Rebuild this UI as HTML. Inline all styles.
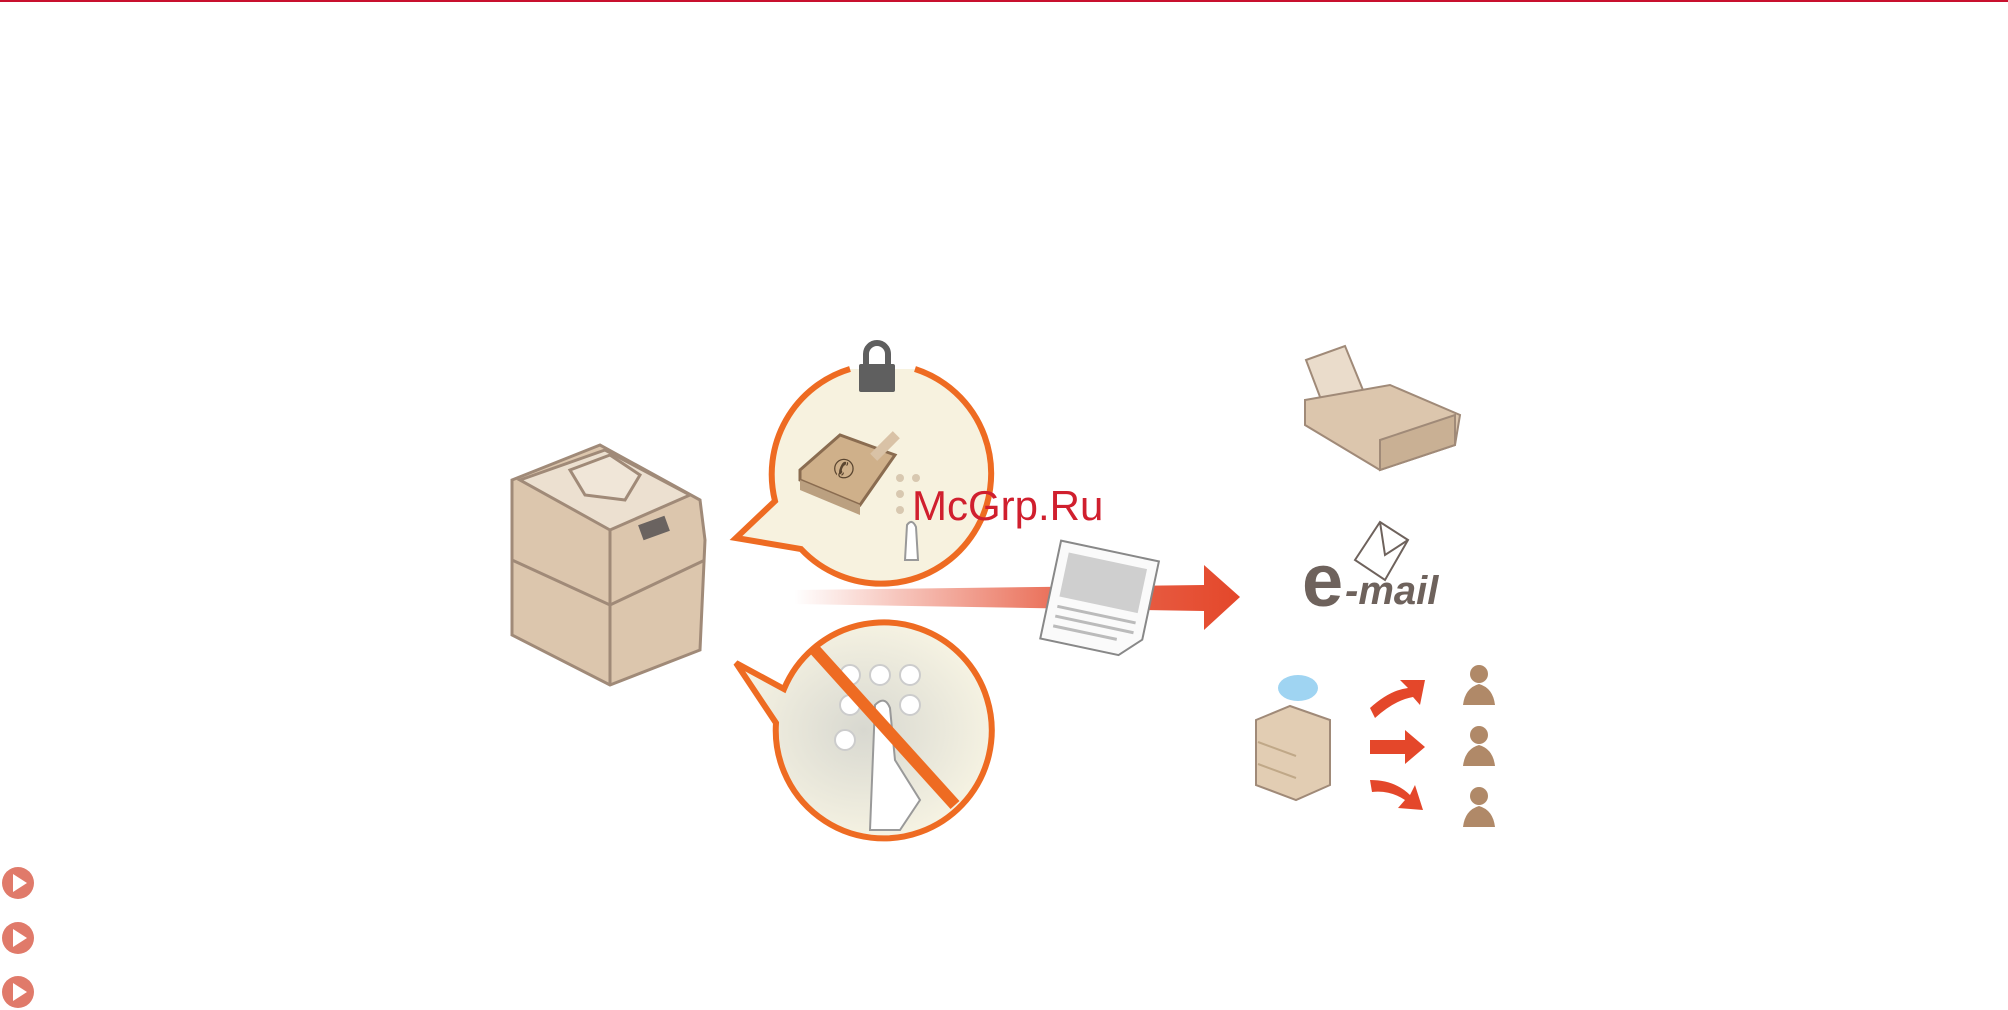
<!DOCTYPE html>
<html><head><meta charset="utf-8"><style>
html,body{margin:0;padding:0;background:#fff;width:2008px;height:1010px;overflow:hidden}
svg{display:block}
</style></head><body>
<svg width="2008" height="1010" viewBox="0 0 2008 1010" xmlns="http://www.w3.org/2000/svg">
<defs>
<linearGradient id="ar" x1="0" x2="1"><stop offset="0" stop-color="#e4472a" stop-opacity="0"/><stop offset="0.6" stop-color="#e4472a" stop-opacity="0.8"/><stop offset="1" stop-color="#e4472a"/></linearGradient>
<radialGradient id="kp" cx="0.5" cy="0.5" r="0.5"><stop offset="0" stop-color="#d8d8d0"/><stop offset="1" stop-color="#f5f2e2"/></radialGradient>
</defs>
<rect x="0" y="0" width="2008" height="2" fill="#c8102e"/>
<!-- printer -->
<g stroke="#a08a78" stroke-width="3" fill="#e6d5c0">
<path d="M512 480 L600 445 L700 500 L705 540 L700 650 L610 685 L512 635 Z" fill="#dcc6ad"/>
<path d="M520 480 L605 450 L690 495 L610 530 Z" fill="#ece0d0"/>
<path d="M570 470 L610 455 L640 475 L625 500 L585 495 Z" fill="#f0e6d8"/>
<path d="M512 560 L610 605 L705 560" fill="none"/>
<path d="M610 530 L610 685" fill="none"/>
<rect x="640" y="520" width="28" height="16" fill="#6a6360" stroke="none" transform="rotate(-20 654 528)"/>
</g>
<!-- top bubble -->
<path d="M915 369 A110 110 0 1 1 801 549 L736 538 L775 501 A110 110 0 0 1 850 369" fill="#f7f2df" stroke="#ee6b22" stroke-width="6" stroke-linejoin="miter"/>
<!-- lock -->
<path d="M866 366 v-12 a11 11 0 0 1 22 0 v12" fill="none" stroke="#5f5f5f" stroke-width="6"/>
<rect x="859" y="364" width="36" height="28" rx="2" fill="#5f5f5f"/>
<!-- address book -->
<path d="M800 470 L840 435 L895 455 L860 505 L800 480 Z" fill="#cfb08a" stroke="#8a6c50" stroke-width="3"/>
<path d="M800 480 L860 505 L860 515 L800 490 Z" fill="#bba080"/>
<text x="833" y="478" font-family="Liberation Sans,sans-serif" font-size="26" fill="#5a4530">✆</text>
<rect x="880" y="430" width="10" height="32" fill="#d9c2a6" transform="rotate(45 885 446)"/>
<g fill="#d8c8b0"><circle cx="900" cy="478" r="4"/><circle cx="916" cy="478" r="4"/><circle cx="900" cy="494" r="4"/><circle cx="900" cy="510" r="4"/></g>
<path d="M905 560 L907 525 Q912 518 916 527 L918 560 Z" fill="#fff" stroke="#999" stroke-width="2"/>
<!-- bottom bubble -->
<path d="M784 689 A108 108 0 1 1 776 723 L736 663 Z" fill="url(#kp)" stroke="#ee6b22" stroke-width="6"/>
<g fill="#fff" stroke="#ccc" stroke-width="2"><circle cx="850" cy="675" r="10"/><circle cx="880" cy="675" r="10"/><circle cx="910" cy="675" r="10"/><circle cx="850" cy="705" r="10"/><circle cx="910" cy="705" r="10"/><circle cx="845" cy="740" r="10"/></g>
<path d="M870 830 L875 705 Q885 695 890 708 L895 760 L920 800 L900 830 Z" fill="#fff" stroke="#999" stroke-width="2"/>
<line x1="815" y1="650" x2="955" y2="805" stroke="#ee6b22" stroke-width="12"/>
<!-- arrow -->
<path d="M794 590 L1204 585 L1204 565 L1240 597 L1204 630 L1204 611 L794 604 Z" fill="url(#ar)"/>
<!-- document -->
<g transform="rotate(12 1100 598)">
<path d="M1050 550 L1150 550 L1150 630 L1130 650 L1050 650 Z" fill="#fafafa" stroke="#888" stroke-width="2"/>
<rect x="1060" y="560" width="80" height="45" fill="#cfcfcf"/>
<g stroke="#bbb" stroke-width="3"><line x1="1060" y1="615" x2="1140" y2="615"/><line x1="1060" y1="625" x2="1140" y2="625"/><line x1="1060" y1="635" x2="1125" y2="635"/></g>
</g>
<!-- fax -->
<g stroke="#a08a78" stroke-width="2">
<path d="M1306 360 L1345 346 L1365 395 L1325 410 Z" fill="#eadccb"/>
<path d="M1305 400 L1390 385 L1460 415 L1455 445 L1380 470 L1305 425 Z" fill="#dcc6ad"/>
<path d="M1380 440 L1455 415 L1455 445 L1380 470 Z" fill="#c9b094"/>
</g>
<!-- email -->
<text x="1302" y="606" font-family="Liberation Sans,sans-serif" font-weight="bold" font-size="74" fill="#6e625c">e</text>
<text x="1345" y="604" font-family="Liberation Sans,sans-serif" font-weight="bold" font-style="italic" font-size="40" fill="#6e625c">-mail</text>
<path d="M1355 560 L1380 522 L1408 540 L1385 580 Z" fill="#fff" stroke="#6e625c" stroke-width="2"/>
<path d="M1380 522 L1385 555 L1408 540" fill="none" stroke="#6e625c" stroke-width="2"/>
<!-- server -->
<ellipse cx="1298" cy="688" rx="20" ry="13" fill="#9fd4f2"/>
<path d="M1256 720 L1290 706 L1330 720 L1330 785 L1296 800 L1256 785 Z" fill="#e2cdb3" stroke="#a08a78" stroke-width="2"/>
<g stroke="#c0a888" stroke-width="2"><line x1="1258" y1="742" x2="1296" y2="756"/><line x1="1258" y1="764" x2="1296" y2="778"/></g>
<g fill="#e4472a">
<path d="M1370 708 Q1390 690 1408 688 L1400 680 L1425 680 L1420 705 L1413 697 Q1395 700 1375 718 Z"/>
<path d="M1370 740 L1405 740 L1405 730 L1425 747 L1405 764 L1405 754 L1370 754 Z"/>
<path d="M1370 780 Q1395 780 1410 795 L1415 785 L1423 810 L1398 808 L1405 800 Q1390 790 1372 792 Z"/>
</g>
<g fill="#b08968">
<circle cx="1479" cy="674" r="9"/><path d="M1463 705 Q1465 688 1479 684 Q1493 688 1495 705 Z"/>
<circle cx="1479" cy="735" r="9"/><path d="M1463 766 Q1465 749 1479 745 Q1493 749 1495 766 Z"/>
<circle cx="1479" cy="796" r="9"/><path d="M1463 827 Q1465 810 1479 806 Q1493 810 1495 827 Z"/>
</g>
<text x="912" y="520" font-family="Liberation Sans,sans-serif" font-size="42" fill="#d01f2e">McGrp.Ru</text>
<!-- bullets -->
<g fill="#e07a6a"><circle cx="18" cy="883" r="16"/><circle cx="18" cy="938" r="16"/><circle cx="18" cy="992" r="16"/></g>
<g fill="#fff"><path d="M13 874 L27 883 L13 892 Z"/><path d="M13 929 L27 938 L13 947 Z"/><path d="M13 983 L27 992 L13 1001 Z"/></g>
</svg>
</body></html>
